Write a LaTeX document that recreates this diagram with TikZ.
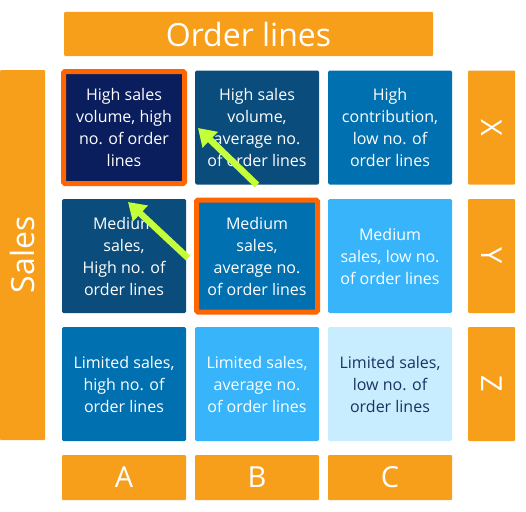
\documentclass[tikz,border=0pt]{standalone}
\usepackage{fontspec}
\setmainfont{Open Sans}
\usepackage{tikz}
\usetikzlibrary{arrows.meta, positioning}
\definecolor{barorange}{RGB}{247,158,27}
\definecolor{hlorange}{RGB}{255,102,0}
\definecolor{navy}{RGB}{10,30,94}
\definecolor{deepblue}{RGB}{10,77,124}
\definecolor{midblue}{RGB}{0,112,176}
\definecolor{skyblue}{RGB}{56,180,250}
\definecolor{paleblue}{RGB}{199,237,255}
\definecolor{darktext}{RGB}{26,50,100}
\definecolor{lime}{RGB}{196,255,58}

\begin{document}
\begin{tikzpicture}[
  x=1pt, y=-1pt,
  bar/.style={rectangle, rounded corners=1pt, fill=barorange, text=white,
              inner sep=0pt},
  cell/.style={rectangle, rounded corners=1.5pt, minimum width=124pt,
               minimum height=114pt, inner sep=0pt, align=center, text=white,
               font=\fontsize{16}{22}\selectfont},
  pick/.style={draw=hlorange, line width=5pt, minimum width=121pt,
               minimum height=112pt},
  hint/.style={-{Triangle[length=17pt,width=21pt]}, line width=6.5pt, draw=lime},
]
  \useasboundingbox (0,0) rectangle (526,511);

  % Axis bars
  \node[bar, minimum width=369pt, minimum height=44pt,
        font=\fontsize{32}{38}\selectfont] (orders) at (248.5,34) {Order lines};
  \node[bar, minimum width=370pt, minimum height=45pt, rotate=90,
        font=\fontsize{32}{38}\selectfont] (sales) at (22.5,255) {Sales};

  % Grid
  \node[cell, fill=navy, pick]      (a1) at (124,127.5) {High sales\\volume, high\\no. of order\\lines};
  \node[cell, fill=deepblue]        (b1) at (257,127.5) {High sales\\volume,\\average no.\\of order lines};
  \node[cell, fill=midblue]         (c1) at (390,127.5) {High\\contribution,\\low no. of\\order lines};
  \node[cell, fill=deepblue]        (a2) at (124,256)   {Medium\\sales,\\High no. of\\order lines};
  \node[cell, fill=midblue, pick]   (b2) at (257,256)   {Medium\\sales,\\average no.\\of order lines};
  \node[cell, fill=skyblue]         (c2) at (390,256)   {Medium\\sales, low no.\\of order lines};
  \node[cell, fill=midblue]         (a3) at (124,384)   {Limited sales,\\high no. of\\order lines};
  \node[cell, fill=skyblue]         (b3) at (257,384)   {Limited sales,\\average no.\\of order lines};
  \node[cell, fill=paleblue, text=darktext] (c3) at (390,384) {Limited sales,\\low no. of\\order lines};

  % Class labels
  \foreach \lbl/\xx in {A/124, B/257, C/390}
    \node[bar, minimum width=124pt, minimum height=45pt,
          font=\fontsize{29}{32}\selectfont] (col\lbl) at (\xx,477.5) {\lbl};
  \foreach \lbl/\yy in {X/127.5, Y/256, Z/384}
    \node[bar, minimum width=114pt, minimum height=47pt, rotate=-90,
          font=\fontsize{29}{32}\selectfont] (row\lbl) at (491.5,\yy) {\lbl};

  % Arrows
  \coordinate (tailb) at (257,185);
  \coordinate (headb) at (198,128);
  \coordinate (taila) at (188,258);
  \coordinate (heada) at (128,202);
  \draw[hint] (tailb) -- (headb);
  \draw[hint] (taila) -- (heada);

\end{tikzpicture}
\end{document}
